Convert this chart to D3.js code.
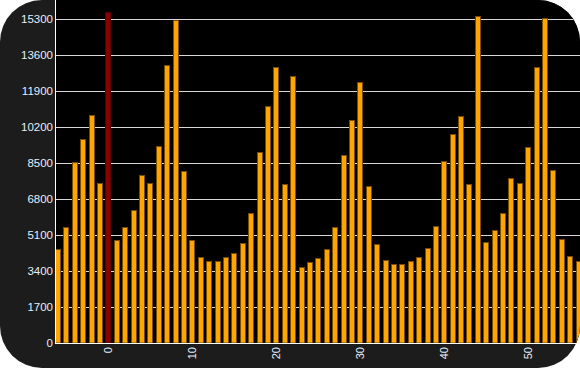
<!DOCTYPE html>
<html>
<head>
<meta charset="utf-8">
<script src="https://cdnjs.cloudflare.com/ajax/libs/d3/7.8.5/d3.min.js"></script>
<style>
  body { margin: 0; background: #fff; }
  svg { display: block; }
</style>
</head>
<body>
<div id="chart"></div>
<script>
// bar positions run from -6 to 56, highlighted bar at 0
var positions = d3.range(-6, 57);
var counts = [
  4440, 5460, 8550, 9630, 10770, 7560,
  15620, 4860, 5460, 6270, 7930, 7560, 9320, 13130, 15240, 8120,
  4860, 4060, 3870, 3870, 4060, 4250, 4720, 6140, 9020, 11180,
  13030, 7510, 12610, 3590, 3830, 4010, 4440, 5480, 8880, 10530,
  12330, 7400, 4680, 3920, 3730, 3730, 3870, 4060, 4490, 5530,
  8590, 9870, 10720, 7510, 15440, 4770, 5340, 6140, 7790, 7560,
  9260, 13030, 15350, 8170, 4910, 4110, 3870
];
var highlight = 0;
var yTicks = d3.range(0, 15301, 1700);
var xTicks = [0, 10, 20, 30, 40, 50];

var width = 580, height = 368;
var plotLeft = 55, plotRight = 580, plotTop = 0, plotBottom = 343;

var svg = d3.select("#chart").append("svg")
  .attr("width", width)
  .attr("height", height);

var defs = svg.append("defs");
defs.append("clipPath").attr("id", "frame")
  .append("rect")
    .attr("x", 0).attr("y", 0)
    .attr("width", width).attr("height", height)
    .attr("rx", 42).attr("ry", 42);
defs.append("clipPath").attr("id", "plot")
  .append("rect")
    .attr("x", plotLeft).attr("y", plotTop)
    .attr("width", plotRight - plotLeft).attr("height", plotBottom - plotTop);

var g = svg.append("g").attr("clip-path", "url(#frame)");

g.append("rect")
  .attr("width", width).attr("height", height)
  .attr("fill", "#1c1c1c");

g.append("rect")
  .attr("x", plotLeft).attr("y", plotTop)
  .attr("width", plotRight - plotLeft).attr("height", plotBottom - plotTop)
  .attr("fill", "#000");

var xScale = d3.scaleLinear().domain([0, 50]).range([108.3, 528.3]);
var yScale = d3.scaleLinear().domain([0, 15300]).range([343, 19]);

// grid
g.append("g").selectAll("line").data(yTicks).enter().append("line")
  .attr("x1", plotLeft).attr("x2", plotRight)
  .attr("y1", function(d) { return Math.round(yScale(d)) + 0.5; })
  .attr("y2", function(d) { return Math.round(yScale(d)) + 0.5; })
  .attr("stroke", "#d8d8d8")
  .attr("stroke-width", 1);

// bars
var bars = g.append("g").attr("clip-path", "url(#plot)");
bars.selectAll("rect").data(positions).enter().append("rect")
  .attr("x", function(d) { return Math.round(xScale(d) - 3) + 0.5; })
  .attr("y", function(d, i) { return Math.round(yScale(counts[i])) + 0.5; })
  .attr("width", 5)
  .attr("height", function(d, i) { return plotBottom - Math.round(yScale(counts[i])) - 0.5; })
  .attr("fill", function(d) { return d === highlight ? "#8b0000" : "#ffa500"; })
  .attr("stroke", function(d) { return d === highlight ? "#5a0000" : "#7a4c00"; })
  .attr("stroke-width", 1);

// axis lines
g.append("line")
  .attr("x1", plotLeft).attr("x2", plotRight)
  .attr("y1", plotBottom + 0.5).attr("y2", plotBottom + 0.5)
  .attr("stroke", "#fff");
g.append("line")
  .attr("x1", plotLeft + 0.5).attr("x2", plotLeft + 0.5)
  .attr("y1", plotTop).attr("y2", plotBottom + 1)
  .attr("stroke", "#fff");

// y tick labels
g.append("g").selectAll("text").data(yTicks).enter().append("text")
  .attr("x", plotLeft - 2)
  .attr("y", function(d) { return yScale(d); })
  .attr("dy", "0.35em")
  .attr("text-anchor", "end")
  .attr("fill", "#e6eefa")
  .style("font", "11.5px 'Liberation Sans', Arial, sans-serif")
  .text(function(d) { return d; });

// x tick labels, rotated
g.append("g").selectAll("text").data(xTicks).enter().append("text")
  .attr("transform", function(d) { return "translate(" + xScale(d) + "," + (plotBottom + 4) + ") rotate(-90)"; })
  .attr("dy", "0.35em")
  .attr("text-anchor", "end")
  .attr("fill", "#e6eefa")
  .style("font", "11px 'Liberation Sans', Arial, sans-serif")
  .text(function(d) { return d; });
</script>
</body>
</html>
